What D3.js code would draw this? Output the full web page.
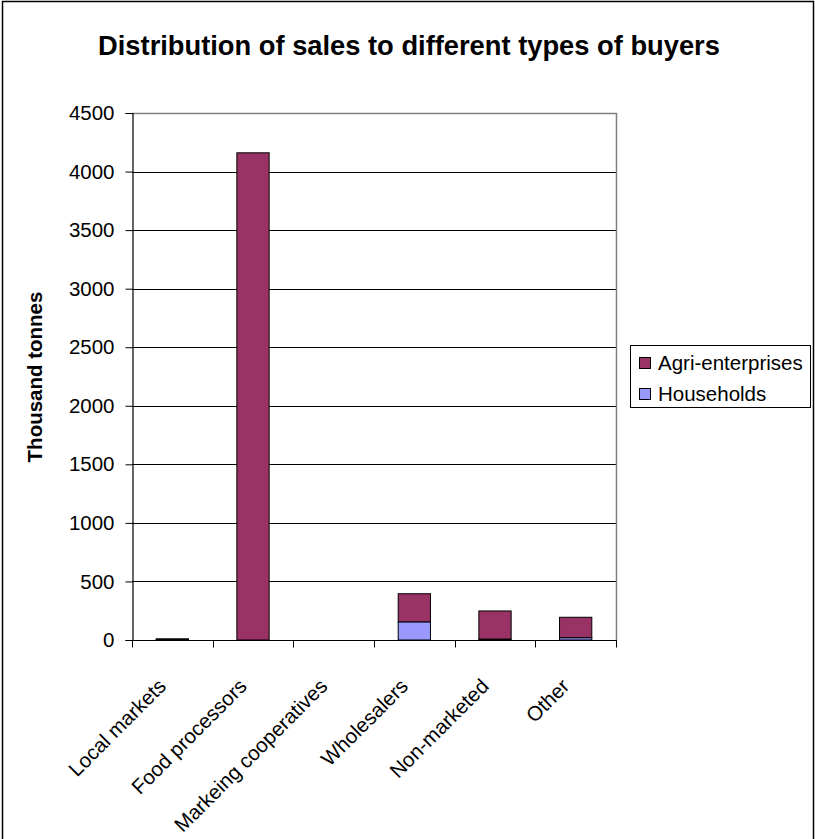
<!DOCTYPE html>
<html>
<head>
  <meta charset="utf-8">
  <script src="https://d3js.org/d3.v7.min.js"></script>
  <style>
    body { margin: 0; background: #fff; }
    text { font-family: "Liberation Sans", Arial, sans-serif; }
  </style>
</head>
<body>
<div id="chart"></div>

<script>

  var categories = ['Local markets', 'Food processors', 'Markeing cooperatives', 'Wholesalers', 'Non-marketed', 'Other'];
  var households = [5, 0, 0, 155, 8, 20];
  var agriEnterprises = [5, 4160, 0, 240, 240, 174];
  var seriesNames = ['Households', 'Agri-enterprises'];
  var seriesColors = ['#9999ff', '#993366'];
  var yTicks = [0, 500, 1000, 1500, 2000, 2500, 3000, 3500, 4000, 4500];

  var width = 815, height = 839;
  var plot = { left: 132, right: 616, top: 113, bottom: 640 };

  var svg = d3.select('#chart').append('svg')
    .attr('width', width)
    .attr('height', height);

  // outer chart border
  svg.append('rect')
    .attr('x', 2.5).attr('y', 1.5)
    .attr('width', 811).attr('height', 840)
    .attr('fill', 'none')
    .attr('stroke', '#000')
    .attr('stroke-width', 1.5);

  svg.append('text')
    .attr('x', 409).attr('y', 55)
    .attr('text-anchor', 'middle')
    .style('font-size', '27.3px')
    .style('font-weight', 'bold')
    .text('Distribution of sales to different types of buyers');

  var x = d3.scaleBand()
    .domain(categories)
    .range([plot.left, plot.right])
    .paddingInner(0).paddingOuter(0);

  var y = d3.scaleLinear()
    .domain([0, 4500])
    .range([plot.bottom, plot.top]);

  // gridlines
  svg.append('g').selectAll('line')
    .data(yTicks.filter(function(d){ return d > 0 && d < 4500; }))
    .enter().append('line')
    .attr('x1', plot.left).attr('x2', plot.right)
    .attr('y1', function(d){ return Math.round(y(d)) + 0.5; })
    .attr('y2', function(d){ return Math.round(y(d)) + 0.5; })
    .attr('stroke', '#000')
    .attr('stroke-width', 1);

  // plot area border (top + right, grey)
  svg.append('path')
    .attr('d', 'M' + plot.left + ',' + (plot.top + 0.5) + 'H' + (plot.right + 0.5) + 'V' + plot.bottom)
    .attr('fill', 'none')
    .attr('stroke', '#808080')
    .attr('stroke-width', 1.5);

  // stacked bars
  var rows = categories.map(function(c, i){
    return { cat: c, Households: households[i], 'Agri-enterprises': agriEnterprises[i] };
  });
  var stack = d3.stack().keys(seriesNames)(rows);
  var barW = x.bandwidth() / 2.5;

  svg.append('g').selectAll('g')
    .data(stack)
    .enter().append('g')
    .attr('fill', function(d, i){ return seriesColors[i]; })
    .selectAll('rect')
    .data(function(d){ return d.filter(function(p){ return p[1] > p[0]; }); })
    .enter().append('rect')
    .attr('x', function(d){ return x(d.data.cat) + (x.bandwidth() - barW) / 2; })
    .attr('y', function(d){ return y(d[1]); })
    .attr('width', barW)
    .attr('height', function(d){ return y(d[0]) - y(d[1]); })
    .attr('stroke', '#000')
    .attr('stroke-width', 1);

  // y axis
  var yAxis = svg.append('g')
    .attr('transform', 'translate(' + (plot.left + 0.5) + ',0)')
    .call(d3.axisLeft(y).tickValues(yTicks).tickSize(7).tickPadding(11).tickFormat(d3.format('d')));
  yAxis.select('.domain').attr('stroke', '#000').attr('stroke-width', 1.2);
  yAxis.selectAll('.tick line').attr('stroke', '#000');
  yAxis.selectAll('.tick text')
    .style('font-size', '20.5px')
    .attr('fill', '#000')
    .attr('font-family', null);

  // x axis
  var xAxis = svg.append('g')
    .attr('transform', 'translate(0,' + (plot.bottom + 0.5) + ')');
  xAxis.append('line')
    .attr('x1', plot.left).attr('x2', plot.right + 1)
    .attr('stroke', '#000').attr('stroke-width', 1.2);
  var bounds = categories.map(function(c){ return x(c); }).concat([plot.right]);
  xAxis.selectAll('.xtick')
    .data(bounds)
    .enter().append('line')
    .attr('class', 'xtick')
    .attr('x1', function(d){ return Math.round(d) + 0.5; })
    .attr('x2', function(d){ return Math.round(d) + 0.5; })
    .attr('y1', 0).attr('y2', 7)
    .attr('stroke', '#000');
  xAxis.selectAll('.xlabel')
    .data(categories)
    .enter().append('text')
    .attr('class', 'xlabel')
    .attr('text-anchor', 'end')
    .attr('transform', function(d){
      return 'translate(' + (x(d) + x.bandwidth() / 2 - 5) + ',47) rotate(-45)';
    })
    .style('font-size', '20.5px')
    .text(function(d){ return d; });

  // y axis title
  svg.append('text')
    .attr('transform', 'translate(42,377) rotate(-90)')
    .attr('text-anchor', 'middle')
    .style('font-size', '20.5px')
    .style('font-weight', 'bold')
    .text('Thousand tonnes');

  // legend
  var legend = svg.append('g').attr('transform', 'translate(630,345)');
  legend.append('rect')
    .attr('x', 0.5).attr('y', 0.5)
    .attr('width', 180).attr('height', 62)
    .attr('fill', '#fff')
    .attr('stroke', '#000');
  var legendItems = ['Agri-enterprises', 'Households'];
  var legendColors = ['#993366', '#9999ff'];
  legendItems.forEach(function(name, i){
    legend.append('rect')
      .attr('x', 9.5).attr('y', 12.5 + i * 31)
      .attr('width', 11).attr('height', 11)
      .attr('fill', legendColors[i])
      .attr('stroke', '#000');
    legend.append('text')
      .attr('x', 28).attr('y', 24.5 + i * 31)
      .style('font-size', '20.5px')
      .text(name);
  });

</script>
</body>
</html>
